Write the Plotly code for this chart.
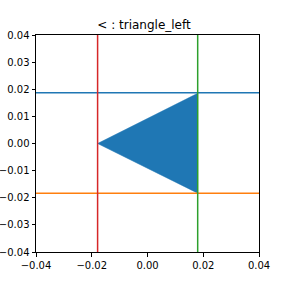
import plotly.graph_objects as go

# Data
tri_x = [-0.0179, 0.0180, 0.0180, -0.0179]
tri_y = [0.0, 0.0185, -0.0183, 0.0]
hline_vals = [0.0187, -0.0183]
hline_colors = ["#1f77b4", "#ff7f0e"]
vline_vals = [-0.0179, 0.0180]
vline_colors = ["#d62728", "#2ca02c"]
x_ticks = [-0.04, -0.02, 0.0, 0.02, 0.04]
y_ticks = [-0.04, -0.03, -0.02, -0.01, 0.0, 0.01, 0.02, 0.03, 0.04]
lim = [-0.04, 0.04]

fig = go.Figure()
fig.add_trace(go.Scatter(x=tri_x, y=tri_y, fill="toself", fillcolor="#1f77b4",
                         mode="lines", line=dict(color="#1f77b4", width=0.5),
                         hoverinfo="skip", showlegend=False))
for v, c in zip(hline_vals, hline_colors):
    fig.add_trace(go.Scatter(x=lim, y=[v, v], mode="lines",
                             line=dict(color=c, width=1.5), showlegend=False))
for v, c in zip(vline_vals, vline_colors):
    fig.add_trace(go.Scatter(x=[v, v], y=lim, mode="lines",
                             line=dict(color=c, width=1.5), showlegend=False))

axis_common = dict(range=lim, showgrid=False, zeroline=False, showline=True,
                   linecolor="black", linewidth=1, mirror=True, ticks="outside",
                   ticklen=3.5, tickwidth=1, tickcolor="black", tickformat=".2f",
                   automargin=False,
                   tickfont=dict(family="DejaVu Sans", size=10, color="black"))
fig.update_xaxes(tickvals=x_ticks, **axis_common)
fig.update_yaxes(tickvals=y_ticks, **axis_common)

fig.update_layout(
    width=288, height=288,
    margin=dict(l=36, r=29, t=35, b=36),
    plot_bgcolor="white", paper_bgcolor="white",
    title=dict(text="< : triangle_left", x=0.5, xanchor="center",
               y=1 - 25 / 288, yanchor="middle",
               font=dict(family="DejaVu Sans", size=12, color="black")),
)
fig.write_html("out.html")
